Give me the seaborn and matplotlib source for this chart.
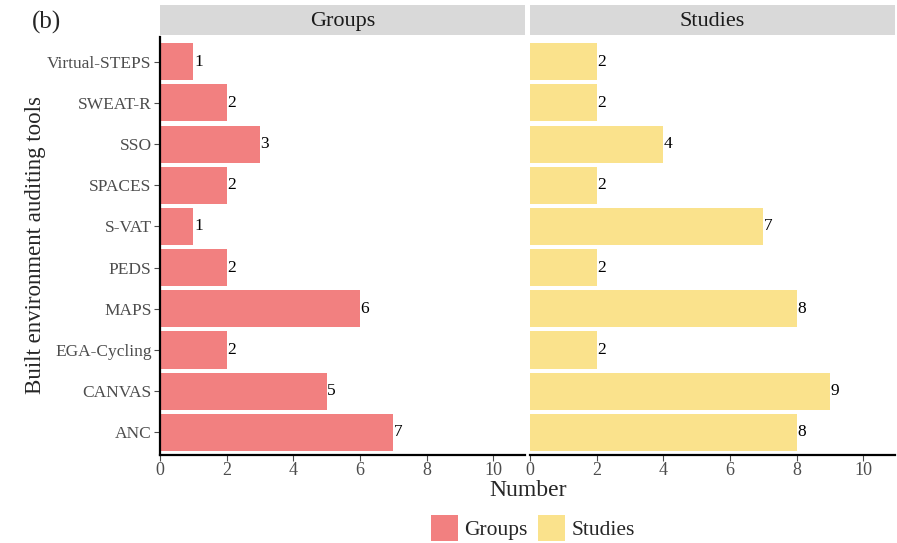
import pandas as pd
import matplotlib.pyplot as plt
import seaborn as sns
from matplotlib.patches import Patch

##################################################
# Data
##################################################

tools = ["Virtual-STEPS", "SWEAT-R", "SSO", "SPACES", "S-VAT",
         "PEDS", "MAPS", "EGA-Cycling", "CANVAS", "ANC"]
groups = [1, 2, 3, 2, 1, 2, 6, 2, 5, 7]
studies = [2, 2, 4, 2, 7, 2, 8, 2, 9, 8]

panels = ["Groups", "Studies"]
colors = {"Groups": "#F28080", "Studies": "#FAE28C"}
x_ticks = [0, 2, 4, 6, 8, 10]

df = pd.DataFrame({
    "tool": tools * 2,
    "value": groups + studies,
    "panel": ["Groups"] * len(tools) + ["Studies"] * len(tools),
})

##################################################
# Style
##################################################

sns.set_style("white")
plt.rcParams["font.family"] = ["Liberation Serif", "DejaVu Serif"]
tick_grey = "#4d4d4d"

fig = plt.figure(figsize=(8.97, 5.43), dpi=100)
left, right, bottom, top = 160 / 897, 895 / 897, 1 - 455 / 543, 1 - 37 / 543
gap = 5 / 897
w = (right - left - gap) / 2
strip_h = 30 / 543

##################################################
# Panels
##################################################

axes = []
for i, panel in enumerate(panels):
    x0 = left + i * (w + gap)
    ax = fig.add_axes([x0, bottom, w, top - bottom])
    sub = df[df["panel"] == panel]
    sns.barplot(data=sub, x="value", y="tool", order=tools, color=colors[panel],
                width=0.9, saturation=1, ax=ax, orient="h")
    for patch in ax.patches:
        patch.set_edgecolor("none")
    for y, v in enumerate(sub["value"]):
        ax.text(v + 0.02, y, str(v), va="center", ha="left", fontsize=12.5, color="black")
    ax.set_xlim(0, 10.95)
    ax.set_ylim(len(tools) - 0.45, -0.6)
    ax.set_xticks(x_ticks)
    ax.tick_params(axis="x", colors=tick_grey, labelsize=13, length=4, width=0.8,
                   direction="out", bottom=True, pad=1)
    ax.set_xlabel("")
    ax.set_ylabel("")
    for s in ["top", "right"]:
        ax.spines[s].set_visible(False)
    ax.spines["bottom"].set_color("black")
    ax.spines["bottom"].set_linewidth(1.6)
    if i == 0:
        ax.spines["left"].set_color("black")
        ax.spines["left"].set_linewidth(1.6)
        ax.tick_params(axis="y", colors=tick_grey, labelsize=12.5, length=4, width=0.8,
                       left=True, pad=2)
    else:
        ax.spines["left"].set_visible(False)
        ax.set_yticks([])
    # facet strip
    strip = fig.add_axes([x0, top + 2 / 543, w, strip_h])
    strip.set_facecolor("#D9D9D9")
    strip.set_xticks([])
    strip.set_yticks([])
    for s in strip.spines.values():
        s.set_visible(False)
    strip.text(0.5, 0.45, panel, ha="center", va="center", fontsize=16, color="#1a1a1a",
               transform=strip.transAxes)
    axes.append(ax)

##################################################
# Labels + legend
##################################################

fig.text(528 / 897, 1 - 490 / 543, "Number", ha="center", va="center", fontsize=17)
fig.text(36 / 897, 1 - 245 / 543, "Built environment auditing tools",
         rotation=90, ha="center", va="center", fontsize=16.5)
fig.text(32 / 897, 1 - 22 / 543, "(b)", ha="left", va="center", fontsize=18)

handles = [Patch(facecolor=colors[p], edgecolor="none", label=p) for p in panels]
fig.legend(handles=handles, loc="center", bbox_to_anchor=(533 / 897, 1 - 528 / 543), ncol=2,
           frameon=False, fontsize=15.5, handlelength=1.25, handleheight=1.5,
           handletextpad=0.3, columnspacing=0.5)

fig.savefig("out.png", dpi=100)
